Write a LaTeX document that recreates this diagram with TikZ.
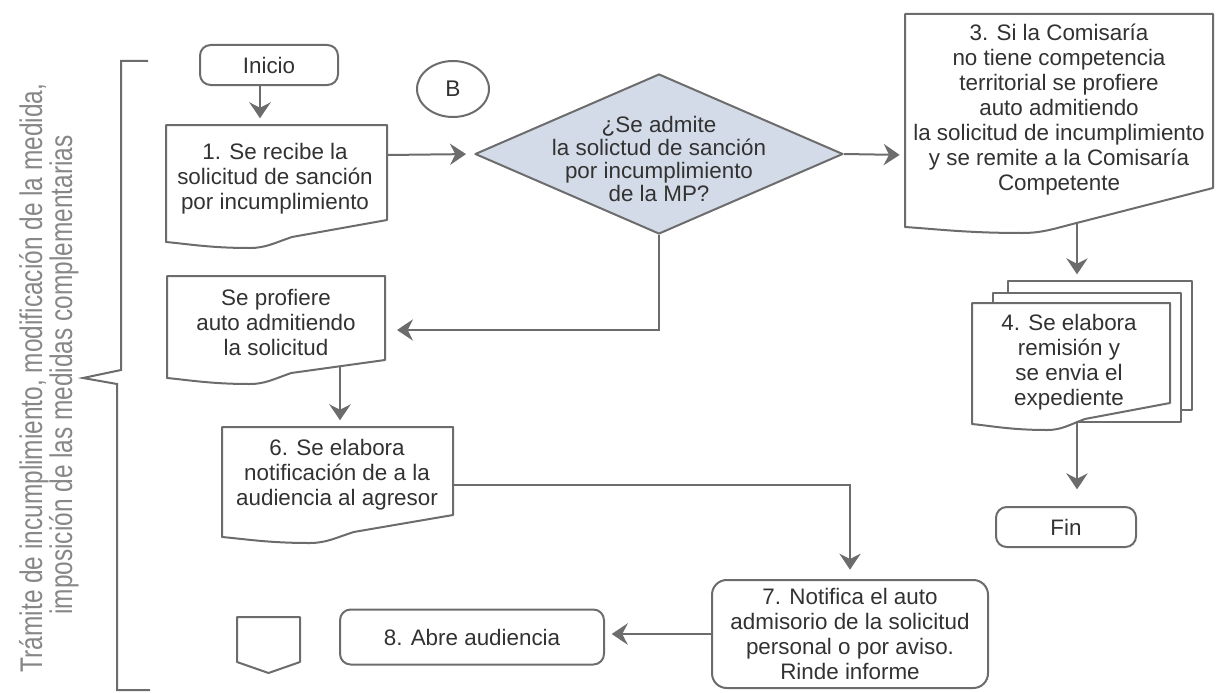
\documentclass[tikz,border=0pt]{standalone}
\usepackage{fontspec}
\setmainfont{Liberation Sans}
\newfontfamily\sidefont{Liberation Sans}[FakeStretch=0.78]
\usetikzlibrary{arrows.meta,shapes.geometric}
\definecolor{ln}{RGB}{108,108,108}
\definecolor{tx}{RGB}{50,50,50}
\definecolor{sidec}{RGB}{135,135,135}
\definecolor{dfill}{RGB}{212,219,232}
\newcommand\docshape[5]{%
 \pgfmathsetmacro\dw{#3-#1}%
 \path[shp] (#1,#2) -- (#3,#2) -- (#3,#5) -- ({#1+0.57*\dw},{#4-5}) .. controls ({#1+0.49*\dw},{#4+1}) and ({#1+0.45*\dw},{#4+6}) .. ({#1+0.38*\dw},{#4+6}) .. controls ({#1+0.2*\dw},{#4+6}) and ({#1+0.1*\dw},{#4+2}) .. (#1,#4) -- cycle;}
\begin{document}
\begin{tikzpicture}[x=0.75pt,y=-0.75pt,
 shp/.style={draw=ln,line width=1.5pt,fill=white,line join=round},
 arr/.style={draw=ln,line width=1.5pt,-{Stealth[length=12pt,width=16pt,inset=4pt]}},
 lbl/.style={text=tx,align=center,font=\fontsize{16.8}{18.75}\selectfont,inner sep=0pt},
 rbox/.style={shp,rounded corners=8pt,inner sep=0pt,text=tx,font=\fontsize{16.8}{18.75}\selectfont,align=center},
 sidetxt/.style={text=sidec,font=\sidefont\fontsize{23.5}{26}\selectfont,rotate=90,anchor=base,inner sep=0pt}]
\useasboundingbox (0,0) rectangle (1219,692);

% side bracket and title
\draw[draw=ln,line width=1.5pt,line join=miter] (148,61) -- (121,61) -- (121,370) -- (83,378) -- (117,384) -- (117,690) -- (150,690);
\node[sidetxt] (side1) at (42,378) {Trámite de incumplimiento, modificación de la medida,};
\node[sidetxt] (side2) at (72,375) {imposición de las medidas complementarias};

% start, connector B
\node[rbox,minimum width=103.5pt,minimum height=30pt] (inicio) at (269,65) {Inicio};
\node[shp,ellipse,minimum width=54pt,minimum height=42pt,inner sep=0pt,text=tx,font=\fontsize{17}{20}\selectfont] (B) at (453,89) {B};

% box 1
\docshape{166}{125}{387}{242}{220}
\node[lbl] (t1) at (275,179) {1. Se recibe la\\solicitud de sanción\\por incumplimiento};
\coordinate (b1n) at (260,125);
\coordinate (b1e) at (387,155);

% decision
\node[shp,diamond,fill=dfill,minimum width=276pt,minimum height=120pt,inner sep=0pt] (dia) at (659,154) {};
\node[lbl,font=\fontsize{16.8}{17.25}\selectfont] (tdia) at (659,159) {¿Se admite\\la solictud de sanción\\por incumplimiento\\de la MP?};

% box 3
\docshape{905}{14}{1213}{227}{188}
\node[lbl] (t3) at (1059,110) {3. Si la Comisaría\\no tiene competencia\\territorial se profiere\\auto admitiendo\\la solicitud de incumplimiento\\y se remite a la Comisaría\\Competente};
\coordinate (b3w) at (905,155);
\coordinate (b3s) at (1077,222);

% box 4 (multi document)
\path[shp] (1008,281) rectangle (1192,410);
\path[shp] (993,293) rectangle (1181,422);
\docshape{972}{303}{1170}{424}{403}
\node[lbl] (t4) at (1069,362) {4. Se elabora\\remisión y\\se envia el\\expediente};
\coordinate (b4n) at (1077,281);
\coordinate (b4s) at (1077,421);

% fin
\node[rbox,minimum width=105pt,minimum height=30pt] (fin) at (1066,527) {Fin};

% box 2
\docshape{167}{276}{385}{378}{360}
\node[lbl] (t2) at (276,322) {Se profiere\\auto admitiendo\\la solicitud};
\coordinate (b2e) at (385,330);
\coordinate (b2s) at (340,366);

% box 6
\docshape{222}{427}{453}{537}{515}
\node[lbl] (t6) at (337,475) {6. Se elabora\\notificación de a la\\audiencia al agresor};
\coordinate (b6n) at (340,427);
\coordinate (b6e) at (453,485);

% box 7, box 8
\node[rbox,rounded corners=11pt,minimum width=207pt,minimum height=81pt] (n7) at (850,634) {7. Notifica el auto\\admisorio de la solicitud\\personal o por aviso.\\Rinde informe};
\node[rbox,minimum width=198pt,minimum height=41.25pt] (n8) at (472,637) {8. Abre audiencia};

% off-page connector
\path[shp] (237,617) -- (300,617) -- (300,662) -- (268.5,673) -- (237,662) -- cycle;

% connectors
\draw[arr,shorten >=5pt] (inicio.south -| b1n) -- (b1n);
\draw[arr,shorten >=6pt] (b1e) -- (dia.west);
\draw[arr,shorten >=4pt] (dia.east) -- (b3w);
\draw[arr,shorten >=9pt] (dia.south) |- (b2e);
\draw[arr,shorten >=5pt] (b3s) -- (b4n);
\draw[arr,shorten >=12.5pt] (b4s) -- (fin.north -| b4s);
\draw[arr,shorten >=5pt] (b2s) -- (b6n);
\draw[arr,shorten >=7pt] (b6e) -| (n7.north);
\draw[arr,shorten >=5pt] (n7.west) -- (n8.east |- n7.west);
\end{tikzpicture}
\end{document}
